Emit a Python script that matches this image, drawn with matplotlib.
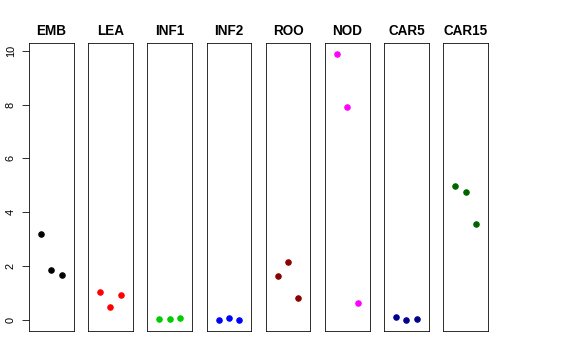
import matplotlib
matplotlib.use("Agg")
import matplotlib.pyplot as plt

plt.rcParams['font.family'] = ['Liberation Sans', 'DejaVu Sans']

# tissue panels and their three values each
tissues = ['EMB', 'LEA', 'INF1', 'INF2', 'ROO', 'NOD', 'CAR5', 'CAR15']
colors = ['black', 'red', '#00CD00', 'blue', '#8B0000', 'magenta', '#00008B', '#006400']
emb = [3.19, 1.88, 1.68]
lea = [1.05, 0.48, 0.94]
inf1 = [0.05, 0.05, 0.085]
inf2 = [0.0, 0.07, 0.0]
roo = [1.64, 2.16, 0.83]
nod = [9.89, 7.92, 0.62]
car5 = [0.12, 0.02, 0.05]
car15 = [4.96, 4.76, 3.58]
values = [emb, lea, inf1, inf2, roo, nod, car5, car15]
yticks = [0, 2, 4, 6, 8, 10]

W, H = 576, 360
fig = plt.figure(figsize=(W / 72, H / 72), dpi=72)

left0, pitch, pw = 29.0, 59.2, 44.5
top, bottom = 43.3, 331.0

for i, (name, col, vals) in enumerate(zip(tissues, colors, values)):
    l = left0 + pitch * i
    ax = fig.add_axes([l / W, (H - bottom) / H, pw / W, (bottom - top) / H])
    ax.plot([1, 2, 3], vals, 'o', color=col, markersize=5.5, linestyle='none')
    ax.set_xlim(-0.16, 4.16)
    ax.set_ylim(-0.40, 10.27)
    ax.set_xticks([])
    ax.set_title(name, fontsize=13.5, fontweight='bold', pad=8)
    for s in ax.spines.values():
        s.set_linewidth(0.8)
    if i == 0:
        ax.set_yticks(yticks)
        ax.set_yticklabels([str(t) for t in yticks], rotation=90, va='center', fontsize=11)
        ax.tick_params(axis='y', length=7, width=0.8, pad=6)
    else:
        ax.set_yticks([])

fig.savefig('out.png', dpi=72)
